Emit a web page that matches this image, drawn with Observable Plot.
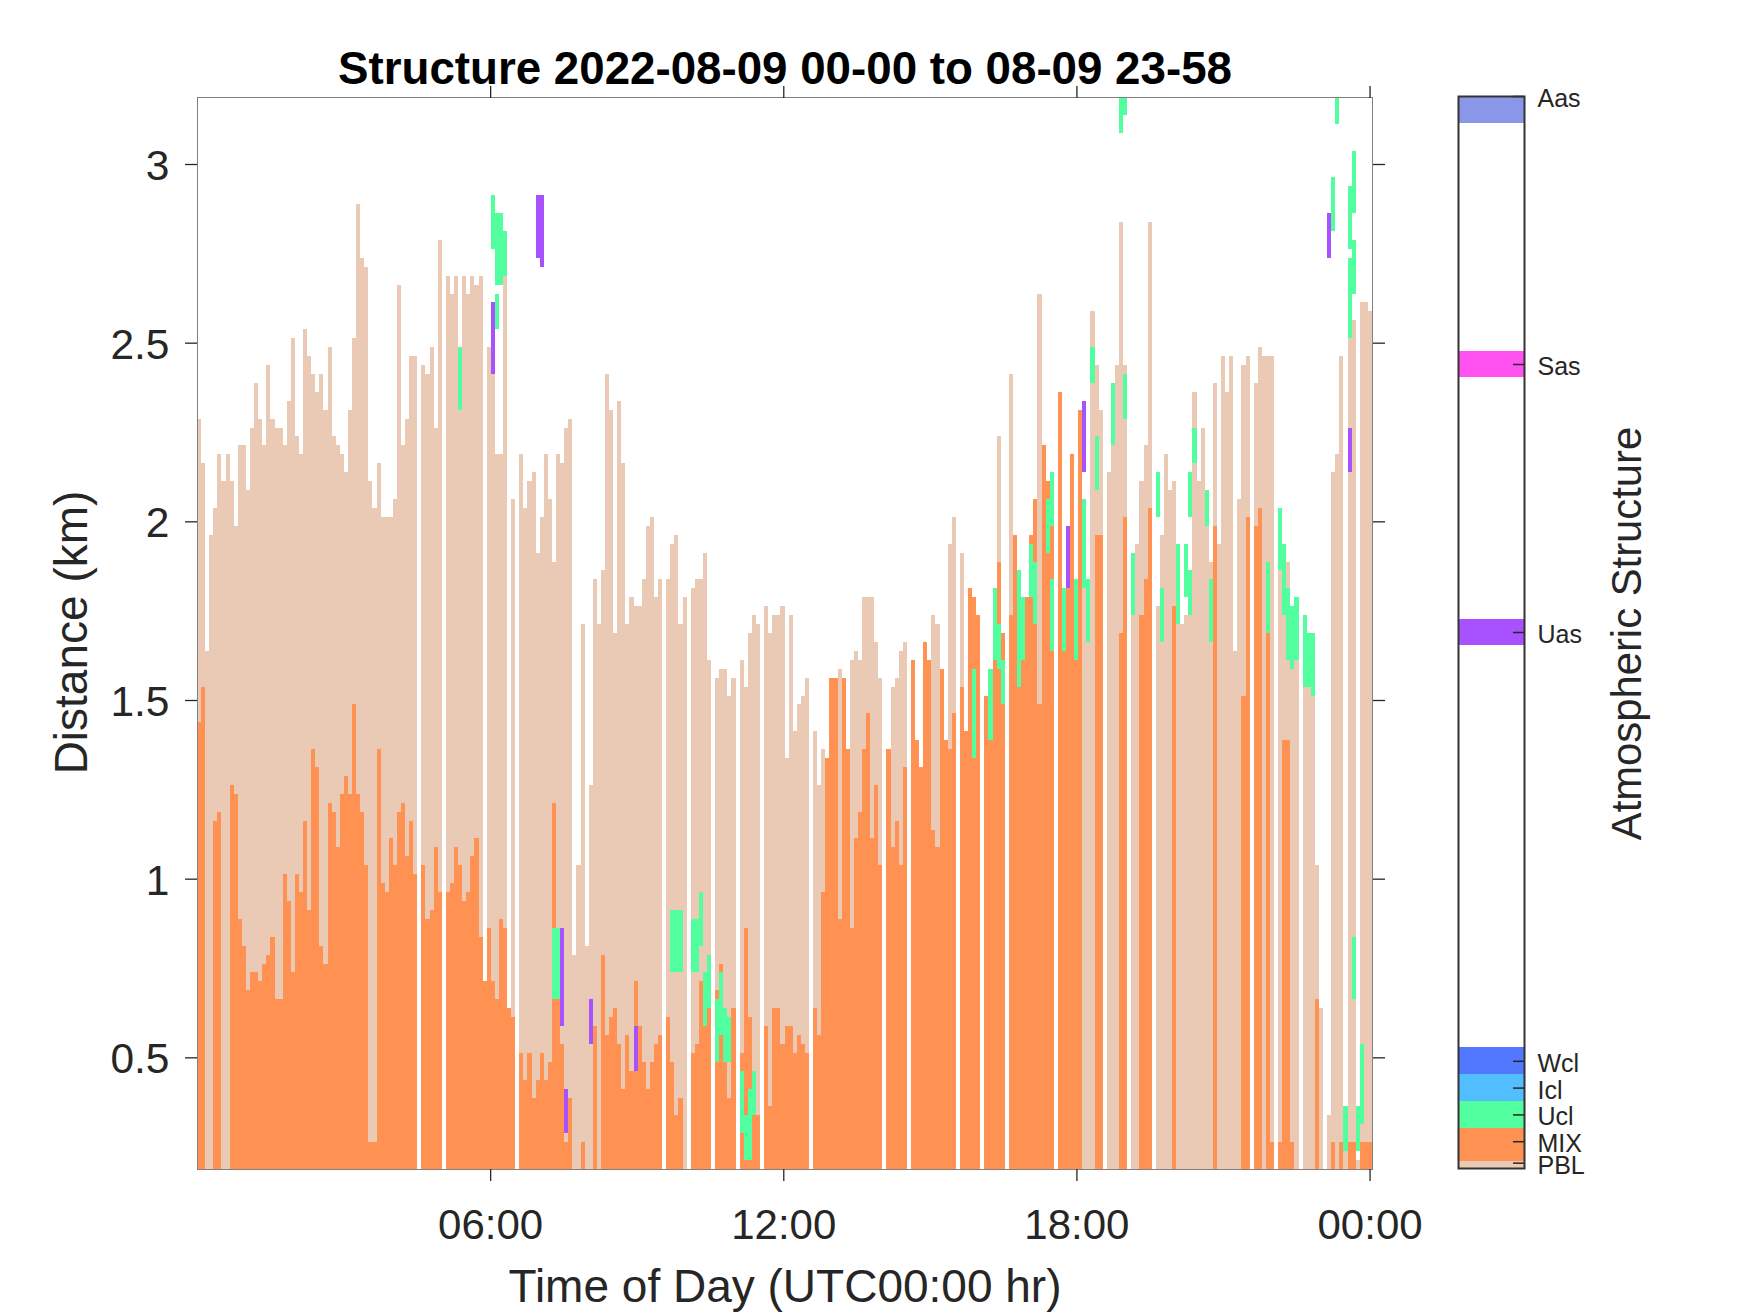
<!DOCTYPE html>
<html><head><meta charset="utf-8">
<script src="https://cdn.jsdelivr.net/npm/d3@7"></script>
<script src="https://cdn.jsdelivr.net/npm/@observablehq/plot@0.6"></script>
<style>
html,body{margin:0;background:#fff}
#wrap{position:relative;width:1750px;height:1313px;overflow:hidden;font-family:"Liberation Sans",Arial,sans-serif}
#wrap svg{position:absolute;background:transparent;color:#262626;font-family:"Liberation Sans",Arial,sans-serif;max-width:none}
</style></head><body><div id="wrap"></div>
<script>
const chartTitle = "Structure 2022-08-09 00-00 to 08-09 23-58";
const xTitle = "Time of Day (UTC00:00 hr)";
const yTitle = "Distance (km)";
const barTitle = "Atmospheric Structure";
const xTicks = [6, 12, 18, 24];
const xTickLabels = ["06:00", "12:00", "18:00", "00:00"];
const yTicks = [0.5, 1, 1.5, 2, 2.5, 3];
const yTickLabels = ["0.5", "1", "1.5", "2", "2.5", "3"];
const yDomain = [0.1875, 3.1875];
const xDomain = [0, 24.05];

// top of the PBL layer in each 5-minute bin, km (null = no retrieval)
const pblTop = [
2.2875,2.1625,1.6375,1.9625,2.0375,2.1875,2.1125,2.1875,2.1125,1.9875,2.2125,2.2125,2.0875,2.2625,2.3875,2.2875,2.2125,2.4375,2.2875,2.2625,2.2625,2.2125,2.3375,2.5125,
2.2375,2.1875,2.5375,2.4625,2.4125,2.3625,2.4125,2.3125,2.4875,2.2375,2.2125,2.1875,2.1375,2.3125,2.5125,2.8875,2.7375,2.7125,2.1125,2.0375,2.1625,2.0125,2.0125,2.0125,
2.0625,2.6625,2.2125,2.2875,2.4625,2.4625,null,2.4375,2.4125,2.4875,2.2625,2.7875,null,2.6875,2.6375,2.6875,2.3125,2.6875,2.6375,2.6875,2.6625,2.6875,0.7125,2.4875,
2.4125,2.1875,2.1875,2.6875,0.6375,2.0625,null,2.1875,2.0375,2.1125,2.1375,1.9125,2.0125,2.1875,2.0625,1.8875,2.1875,2.1625,2.2625,2.2875,0.7875,1.0375,1.7125,0.8125,
1.2625,1.8375,1.7125,1.8625,2.4125,2.3125,1.6875,2.3375,2.1625,1.7125,1.7875,1.7625,1.7625,1.8375,1.9875,2.0125,1.7875,1.8375,null,1.8375,1.9375,1.9625,1.7125,1.7875,
null,1.8125,1.8375,1.8375,1.9125,1.6125,null,1.5625,1.5875,1.5875,1.5125,1.5625,null,1.6125,1.5375,1.6875,1.7375,1.7125,null,1.7625,1.6875,1.7375,1.7375,1.7625,
1.3375,1.7375,1.4125,1.4875,1.5125,1.5625,null,1.4125,1.2625,1.3625,1.3375,1.5625,1.5625,1.5875,1.5625,1.3625,1.6125,1.6375,1.6125,1.7875,1.7875,1.7875,1.6625,1.5625,
null,1.3625,1.5375,1.5625,1.6375,1.6625,null,1.6125,1.3875,1.3125,1.6625,1.6125,1.7375,1.7125,1.5875,1.3875,1.9375,2.0125,null,1.9125,1.4125,1.8125,1.7875,1.7375,
null,1.5125,1.3875,1.6125,2.2375,1.6875,null,2.4125,1.9625,1.5375,1.7875,1.7875,1.9625,2.0625,2.6375,2.2125,2.1125,2.1375,null,2.3625,1.6375,1.8125,2.1875,1.6125,
2.3125,1.8125,1.6625,2.5875,2.4375,2.3125,null,2.1375,2.2125,2.4375,2.8375,2.4375,null,1.7375,1.9375,2.1125,2.2125,2.8375,null,1.7625,1.9625,2.1875,2.0875,2.1125,
1.7125,1.7125,1.7375,1.7375,2.3625,2.1125,2.2625,1.9875,1.8875,2.3875,1.9375,2.4625,2.3625,2.4625,1.6375,2.0625,2.4375,2.4625,null,2.3875,2.4875,2.4625,2.4625,2.4625,
null,1.8625,1.9375,1.8875,1.5875,1.6125,null,1.5375,1.5375,1.5125,1.0375,0.6375,null,0.3375,2.1375,2.1875,2.4625,0.2375,2.5125,2.5625,0.2125,2.6125,2.6125,2.5875];

// top of the MIX layer in each 5-minute bin, km (null = none)
const mixTop = [
1.4375,1.5375,null,null,1.1625,1.1875,null,null,1.2625,1.2375,0.8875,0.8125,0.6875,0.7375,0.7375,0.7125,0.7625,0.7875,0.8375,0.6625,0.6625,1.0125,0.9375,0.7375,
1.0125,0.9625,1.1625,0.9125,1.3625,1.3125,0.8125,0.7625,1.2125,1.1875,1.0875,1.2375,1.2875,1.2375,1.4875,1.2375,1.1875,1.0375,0.2625,0.2625,1.3625,0.9875,0.9625,1.1125,
1.0375,1.1875,1.2125,1.0625,1.1625,1.0125,null,1.0375,0.8875,0.9125,1.0875,0.9625,null,0.9625,0.9875,1.0875,1.0375,0.9375,0.9625,1.0625,1.1125,0.8375,0.7125,0.8625,
0.7125,0.6625,0.8875,0.8625,0.6375,0.6125,null,0.5125,0.4375,0.5125,0.3875,0.4375,0.5125,0.4375,0.4875,1.2125,0.6625,0.5375,0.2625,0.3875,null,null,0.2625,null,
null,0.5875,null,0.7875,0.5625,0.6125,0.6375,0.5375,0.4125,0.5625,0.4625,0.7125,0.5875,0.4875,0.4125,0.4875,0.5375,0.5625,null,0.6125,0.4875,0.3375,0.3875,null,
null,0.5125,0.5375,0.7125,0.5875,0.6375,null,0.6875,0.7625,0.4875,0.3875,0.6375,null,0.5125,0.8625,0.6125,0.3375,0.3375,null,0.5875,0.3625,0.6375,0.6375,0.5375,
0.5875,0.5875,0.5125,0.5625,0.5375,0.5125,null,0.6375,0.5625,0.9625,1.3375,1.5625,1.5625,0.8875,1.5625,1.3625,0.8625,1.1125,1.1875,1.3625,1.4625,1.1125,1.2625,1.0375,
null,1.3625,1.0875,1.1625,1.0375,1.3125,null,1.6125,1.3875,1.3125,1.6625,1.6125,1.1375,1.0875,1.5875,1.3875,1.3625,1.4625,null,1.5375,1.4125,1.8125,1.7875,1.7375,
null,1.5125,1.3875,1.6125,1.8875,1.6875,null,1.7375,1.9625,1.5375,1.7875,1.7875,1.9625,2.0625,1.4875,2.2125,2.1125,2.1375,null,2.3625,1.6375,1.8125,2.1875,1.6125,
2.3125,null,null,null,1.9625,1.9625,null,null,null,null,1.6875,2.0125,null,null,null,1.7375,1.8375,2.0375,null,null,null,null,null,1.7625,
null,null,null,null,null,null,null,null,null,1.9875,null,null,null,null,null,null,1.5125,2.0125,null,1.9875,2.0375,null,1.6875,0.2625,
null,0.2625,1.3875,1.3875,0.2625,null,null,null,null,null,0.6625,null,null,null,0.2625,null,0.2625,null,0.2625,0.2625,null,0.2625,0.2625,0.2625];

// undefined-cloud (Ucl) segments: bin, low, high in km
const uclBin = [64,72,73,73,74,75,87,88,116,117,118,121,122,123,124,125,127,128,129,130,133,134,135,136,190,194,195,196,197,201,202,204,205,208,209,209,212,215,217,218,219,220,224,226,227,227,229,235,236,240,242,243,243,244,247,248,262,265,266,267,268,269,271,272,273,278,279,281,282,282,283,283,283,284,285];
const uclLow = [2.3125,2.7625,2.6625,2.5375,2.6625,2.6875,0.6625,0.6625,0.7375,0.7375,0.7375,0.7375,0.7375,0.8125,0.5875,0.6375,0.4875,0.5625,0.4875,0.4875,0.2875,0.2125,0.2125,0.3375,1.3375,1.3875,1.6125,1.5875,1.4875,1.5375,1.6125,1.7875,1.7125,1.9125,1.9875,1.6375,1.6375,1.6125,1.8125,1.6625,2.3875,2.0875,2.2125,3.0875,2.2875,3.1375,1.7375,2.0125,1.6625,1.7125,1.7875,1.7375,2.0125,2.1625,1.9875,1.6625,1.6875,1.8625,1.7375,1.6125,1.5875,1.6125,1.5375,1.5375,1.5125,2.8125,3.1125,0.2375,2.7625,2.5125,2.8625,2.6375,0.6625,0.2375,0.3125];
const uclHigh = [2.4875,2.9125,2.8625,2.6375,2.8625,2.8125,0.8625,0.8625,0.9125,0.9125,0.9125,0.8875,0.8875,0.9625,0.7375,0.7875,0.6625,0.7375,0.6375,0.6125,0.4625,0.3375,0.4125,0.4625,1.5875,1.5875,1.8125,1.7125,1.6125,1.8625,1.7875,1.9375,1.8875,2.0625,2.1375,1.8375,1.8125,1.8375,2.0625,1.8375,2.4875,2.2375,2.3875,3.1875,2.4125,3.1875,1.9125,2.1375,1.8125,1.9375,1.9375,1.8625,2.1375,2.2625,2.0875,1.8375,1.8875,2.0375,1.9375,1.8125,1.7625,1.7875,1.7375,1.6875,1.6875,2.9625,3.1875,0.3625,2.9375,2.7375,3.0375,2.7875,0.8375,0.3625,0.5375];

// undefined-aerosol (Uas) segments: bin, low, high in km
const uasBin = [72,83,84,89,90,96,107,213,217,277,282];
const uasLow = [2.4125,2.7375,2.7125,0.5875,0.2875,0.5375,0.4625,1.8125,2.1375,2.7375,2.1375];
const uasHigh = [2.6125,2.9125,2.9125,0.8625,0.4125,0.6625,0.5875,1.9875,2.3375,2.8625,2.2625];

// colour bar
const classNames = ["PBL","MIX","Ucl","Icl","Wcl","Uas","Sas","Aas"];
const classTicks = [0.2,1,2,3,4,20,30,40];
const classLow = [0,0.25,1.5,2.5,3.5,19.5,29.5,39];
const classHigh = [0.25,1.5,2.5,3.5,4.5,20.5,30.5,40];
const classColors = ["#EBCAB5","#FF9152","#52FF9E","#52BDFF","#5278FF","#A852FF","#FF52F0","#8A96E8"];
const color = Object.fromEntries(classNames.map((n,i)=>[n,classColors[i]]));

const binHours = xDomain[1]/pblTop.length;
const bins = pblTop.map((_,i)=>i);
const layer = (tops,fill)=>Plot.rect(bins.filter(i=>tops[i]!=null),{
  x1:i=>i*binHours, x2:i=>(i+1)*binHours, y1:yDomain[0], y2:i=>tops[i],
  fill, clip:true, shapeRendering:"crispEdges"});
const segs = (bin,lo,hi,fill)=>Plot.rect(bin.map((_,k)=>k),{
  x1:k=>bin[k]*binHours, x2:k=>(bin[k]+1)*binHours, y1:k=>lo[k], y2:k=>hi[k],
  fill, clip:true, shapeRendering:"crispEdges"});

const main = Plot.plot({
  width:1750, height:1313,
  marginLeft:197, marginRight:378, marginTop:97, marginBottom:144,
  x:{domain:xDomain}, y:{domain:yDomain},
  style:{background:"transparent"},
  marks:[
    layer(pblTop,color.PBL),
    layer(mixTop,color.MIX),
    segs(uclBin,uclLow,uclHigh,color.Ucl),
    segs(uasBin,uasLow,uasHigh,color.Uas),
    Plot.frame({stroke:"#808080",strokeWidth:1}),
    Plot.axisX({anchor:"bottom",ticks:xTicks,tickFormat:d=>xTickLabels[xTicks.indexOf(d)],tickSize:12,tickPadding:28,fontSize:42,label:null,stroke:"#262626",strokeWidth:1.3}),
    Plot.axisX({anchor:"top",ticks:xTicks,tickFormat:()=>"",tickSize:12,label:null,stroke:"#262626",strokeWidth:1.3}),
    Plot.axisY({anchor:"left",ticks:yTicks,tickFormat:()=>"",tickSize:12,label:null,stroke:"#262626",strokeWidth:1.3}),
    Plot.axisY({anchor:"right",ticks:yTicks,tickFormat:()=>"",tickSize:12,label:null,stroke:"#262626",strokeWidth:1.3}),
    Plot.text(yTicks,{x:xDomain[0],y:d=>d,text:d=>yTickLabels[yTicks.indexOf(d)],dx:-28,dy:2,textAnchor:"end",fontSize:42.5,fill:"#262626"}),
    Plot.text([chartTitle],{frameAnchor:"top",dy:-28,fontSize:45.7,fontWeight:"bold",fill:"#000",lineAnchor:"middle"}),
    Plot.text([xTitle],{frameAnchor:"bottom",dy:118,fontSize:46,fill:"#262626",lineAnchor:"middle"}),
    Plot.text([yTitle],{frameAnchor:"left",dx:-125,dy:-1,rotate:-90,fontSize:46,fill:"#262626",textAnchor:"middle",lineAnchor:"middle"})
  ]
});
main.style.left="0px"; main.style.top="0px";
document.getElementById("wrap").appendChild(main);

const idx = classNames.map((_,i)=>i);
const bar = Plot.plot({
  width:310, height:1110,
  marginLeft:18, marginRight:226, marginTop:16, marginBottom:22,
  x:{domain:[0,1],axis:null}, y:{domain:[0,40],axis:null},
  style:{background:"transparent",overflow:"visible"},
  marks:[
    Plot.rect(idx,{x1:0,x2:1,y1:i=>classLow[i],y2:i=>classHigh[i],fill:i=>classColors[i],shapeRendering:"crispEdges"}),
    Plot.ruleY(idx,{y:i=>classTicks[i],x1:0.833,x2:1,stroke:"#262626",strokeWidth:1.5}),
    Plot.frame({stroke:"#333",strokeWidth:2}),
    Plot.text(idx,{x:1,y:i=>classTicks[i],text:i=>classNames[i],dx:13,dy:2.5,textAnchor:"start",fontSize:25,fill:"#262626"}),
    Plot.text([barTitle],{frameAnchor:"right",dx:103,dy:1,rotate:-90,fontSize:41.8,fill:"#262626",textAnchor:"middle",lineAnchor:"middle"})
  ]
});
bar.style.left="1440px"; bar.style.top="80px";
document.getElementById("wrap").appendChild(bar);
</script></body></html>
